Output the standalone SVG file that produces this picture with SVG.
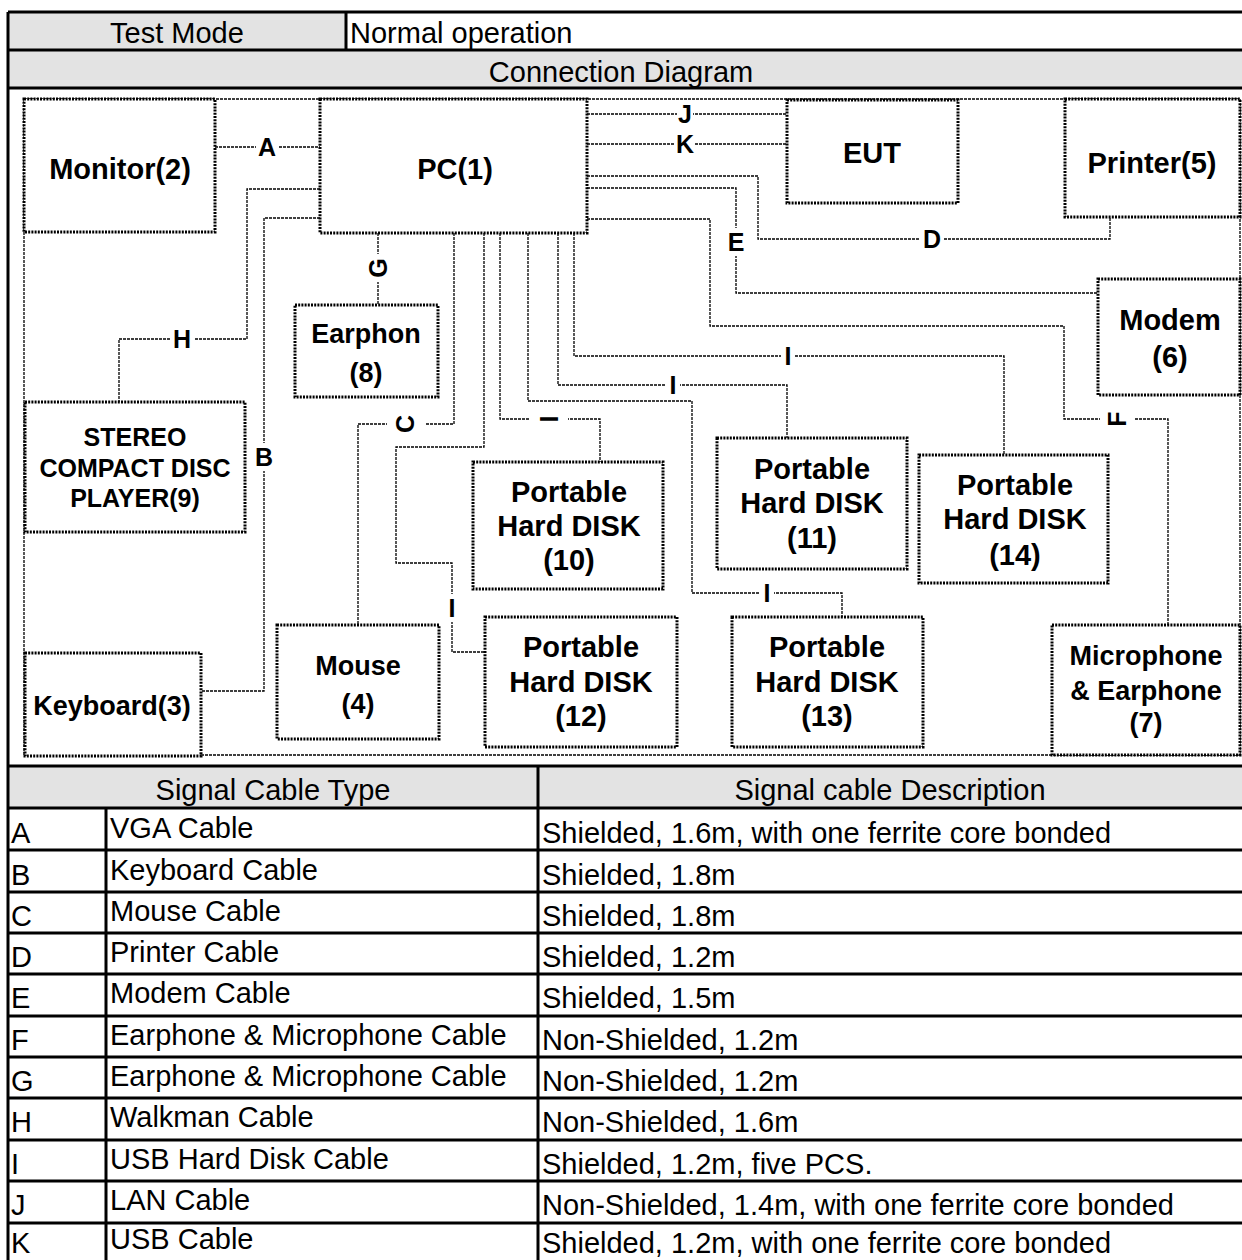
<svg xmlns="http://www.w3.org/2000/svg" width="1242" height="1260" viewBox="0 0 1242 1260">
<defs>
<style>
.hdr{fill:#e3e3e3}
.grid{stroke:#000;stroke-width:3;fill:none}
.t{font-family:"Liberation Sans",Arial,sans-serif;font-size:29px;fill:#000}
.tc{text-anchor:middle}
.box{fill:#fff;stroke:#000;stroke-width:3;stroke-dasharray:2 1.2}
.outer{fill:none;stroke:#000;stroke-width:1.3;stroke-dasharray:3 1}
.conn{fill:none;stroke:#000;stroke-width:1.3;stroke-dasharray:3 1}
.nl{font-family:"Liberation Sans",Arial,sans-serif;font-weight:bold;font-size:27px;text-anchor:middle;fill:#000}
.big{font-size:29px}
.lb{font-family:"Liberation Sans",Arial,sans-serif;font-weight:bold;font-size:25px;text-anchor:middle;fill:#000}
.gap{fill:#fff}
</style>
</defs>
<rect x="0" y="0" width="1242" height="1260" fill="#fff"/>
<rect class="hdr" x="8" y="12" width="338" height="38"/>
<rect class="hdr" x="8" y="50" width="1234" height="38"/>
<rect class="hdr" x="8" y="766" width="1234" height="42"/>
<text class="t tc" x="177" y="43">Test Mode</text>
<text class="t" x="350" y="43">Normal operation</text>
<text class="t tc" x="621" y="82">Connection Diagram</text>
<text class="t tc" x="273" y="800">Signal Cable Type</text>
<text class="t tc" x="890" y="800">Signal cable Description</text>
<g id="table-grid" class="grid">
<path d="M8 12H1242M8 50H1242M8 88H1242M8 766H1242M8 808H1242M8 850H1242M8 892H1242M8 933H1242M8 974H1242M8 1016H1242M8 1057H1242M8 1098H1242M8 1140H1242M8 1181H1242M8 1223H1242"/>
<path d="M8 12V1260M346 12V50M538 766V1260M106 808V1260"/>
</g>
<g id="table-rows">
<text class="t" x="11" y="843">A</text><text class="t" x="110" y="838">VGA Cable</text><text class="t" x="542" y="843">Shielded, 1.6m, with one ferrite core bonded</text>
<text class="t" x="11" y="885">B</text><text class="t" x="110" y="880">Keyboard Cable</text><text class="t" x="542" y="885">Shielded, 1.8m</text>
<text class="t" x="11" y="926">C</text><text class="t" x="110" y="921">Mouse Cable</text><text class="t" x="542" y="926">Shielded, 1.8m</text>
<text class="t" x="11" y="967">D</text><text class="t" x="110" y="962">Printer Cable</text><text class="t" x="542" y="967">Shielded, 1.2m</text>
<text class="t" x="11" y="1008">E</text><text class="t" x="110" y="1003">Modem Cable</text><text class="t" x="542" y="1008">Shielded, 1.5m</text>
<text class="t" x="11" y="1050">F</text><text class="t" x="110" y="1045">Earphone &amp; Microphone Cable</text><text class="t" x="542" y="1050">Non-Shielded, 1.2m</text>
<text class="t" x="11" y="1091">G</text><text class="t" x="110" y="1086">Earphone &amp; Microphone Cable</text><text class="t" x="542" y="1091">Non-Shielded, 1.2m</text>
<text class="t" x="11" y="1132">H</text><text class="t" x="110" y="1127">Walkman Cable</text><text class="t" x="542" y="1132">Non-Shielded, 1.6m</text>
<text class="t" x="11" y="1174">I</text><text class="t" x="110" y="1169">USB Hard Disk Cable</text><text class="t" x="542" y="1174">Shielded, 1.2m, five PCS.</text>
<text class="t" x="11" y="1215">J</text><text class="t" x="110" y="1210">LAN Cable</text><text class="t" x="542" y="1215">Non-Shielded, 1.4m, with one ferrite core bonded</text>
<text class="t" x="11" y="1253">K</text><text class="t" x="110" y="1249">USB Cable</text><text class="t" x="542" y="1253">Shielded, 1.2m, with one ferrite core bonded</text>
</g>
<rect class="outer" x="24" y="99" width="1216" height="656"/>
<g id="connectors" class="conn">
<path d="M215 147H320"/>
<path d="M587 114H787"/>
<path d="M587 144H787"/>
<path d="M587 176H758V239H1110V217"/>
<path d="M587 188H736V293H1098"/>
<path d="M587 219H710V326H1064V419H1168V625"/>
<path d="M320 189H247V339H119V402"/>
<path d="M320 218H264V691H201"/>
<path d="M378 233V305"/>
<path d="M454 233V424H358V625"/>
<path d="M484 233V447H396V563H452V652H485"/>
<path d="M500 233V419H600V462"/>
<path d="M528 233V401H692V593H842V617"/>
<path d="M558 233V385H787V438"/>
<path d="M574 233V356H1004V455"/>
</g>
<g id="connector-labels">
<rect class="gap" x="256" y="135" width="22" height="24"/><text class="lb" x="267" y="156">A</text>
<rect class="gap" x="677" y="102" width="16" height="24"/><text class="lb" x="685" y="123">J</text>
<rect class="gap" x="675" y="132" width="20" height="24"/><text class="lb" x="685" y="153">K</text>
<rect class="gap" x="920" y="227" width="24" height="24"/><text class="lb" x="932" y="248">D</text>
<rect class="gap" x="727" y="228" width="18" height="28"/><text class="lb" x="736" y="251">E</text>
<rect class="gap" x="170" y="327" width="24" height="24"/><text class="lb" x="182" y="348">H</text>
<rect class="gap" x="254" y="443" width="20" height="28"/><text class="lb" x="264" y="466">B</text>
<rect class="gap" x="368" y="254" width="20" height="28"/><text class="lb" x="378" y="277" transform="rotate(-90 378 268)">G</text>
<rect class="gap" x="387" y="414" width="38" height="20"/><text class="lb" x="405" y="433" transform="rotate(-90 405 424)">C</text>
<rect class="gap" x="1100" y="409" width="35" height="20"/><text class="lb" x="1117" y="428" transform="rotate(-90 1117 419)">F</text>
<rect class="gap" x="530" y="409" width="38" height="20"/><text class="lb" x="549" y="428" transform="rotate(-90 549 419)">I</text>
<rect class="gap" x="666" y="373" width="14" height="24"/><text class="lb" x="673" y="394">I</text>
<rect class="gap" x="781" y="344" width="14" height="24"/><text class="lb" x="788" y="365">I</text>
<rect class="gap" x="442" y="594" width="20" height="28"/><text class="lb" x="452" y="617">I</text>
<rect class="gap" x="760" y="581" width="14" height="24"/><text class="lb" x="767" y="602">I</text>
</g>
<g id="node-monitor"><rect class="box" x="24" y="99" width="191" height="133"/><text class="nl big" x="120" y="179">Monitor(2)</text></g>
<g id="node-pc"><rect class="box" x="320" y="99" width="267" height="134"/><text class="nl big" x="455" y="179">PC(1)</text></g>
<g id="node-eut"><rect class="box" x="787" y="100" width="171" height="103"/><text class="nl big" x="872" y="163">EUT</text></g>
<g id="node-printer"><rect class="box" x="1065" y="99" width="175" height="118"/><text class="nl big" x="1152" y="173">Printer(5)</text></g>
<g id="node-modem"><rect class="box" x="1098" y="279" width="142" height="116"/><text class="nl big" x="1170" y="330">Modem</text><text class="nl big" x="1170" y="367">(6)</text></g>
<g id="node-earphon"><rect class="box" x="295" y="305" width="143" height="92"/><text class="nl" x="366" y="343">Earphon</text><text class="nl" x="366" y="382">(8)</text></g>
<g id="node-cd"><rect class="box" x="25" y="402" width="220" height="130"/><text class="nl" style="font-size:25px" x="135" y="446">STEREO</text><text class="nl" style="font-size:25px" x="135" y="477">COMPACT DISC</text><text class="nl" style="font-size:25px" x="135" y="507">PLAYER(9)</text></g>
<g id="node-keyboard"><rect class="box" x="25" y="653" width="176" height="103"/><text class="nl" x="112" y="715">Keyboard(3)</text></g>
<g id="node-mouse"><rect class="box" x="277" y="625" width="162" height="114"/><text class="nl" x="358" y="675">Mouse</text><text class="nl" x="358" y="713">(4)</text></g>
<g id="node-hd10"><rect class="box" x="473" y="462" width="190" height="127"/><text class="nl big" x="569" y="502">Portable</text><text class="nl big" x="569" y="536">Hard DISK</text><text class="nl big" x="569" y="570">(10)</text></g>
<g id="node-hd11"><rect class="box" x="717" y="438" width="190" height="131"/><text class="nl big" x="812" y="479">Portable</text><text class="nl big" x="812" y="513">Hard DISK</text><text class="nl big" x="812" y="548">(11)</text></g>
<g id="node-hd14"><rect class="box" x="919" y="455" width="189" height="128"/><text class="nl big" x="1015" y="495">Portable</text><text class="nl big" x="1015" y="529">Hard DISK</text><text class="nl big" x="1015" y="565">(14)</text></g>
<g id="node-hd12"><rect class="box" x="485" y="617" width="192" height="130"/><text class="nl big" x="581" y="657">Portable</text><text class="nl big" x="581" y="692">Hard DISK</text><text class="nl big" x="581" y="726">(12)</text></g>
<g id="node-hd13"><rect class="box" x="732" y="617" width="191" height="130"/><text class="nl big" x="827" y="657">Portable</text><text class="nl big" x="827" y="692">Hard DISK</text><text class="nl big" x="827" y="726">(13)</text></g>
<g id="node-mic"><rect class="box" x="1052" y="625" width="188" height="130"/><text class="nl" x="1146" y="665">Microphone</text><text class="nl" x="1146" y="700">&amp; Earphone</text><text class="nl" x="1146" y="732">(7)</text></g>
</svg>
